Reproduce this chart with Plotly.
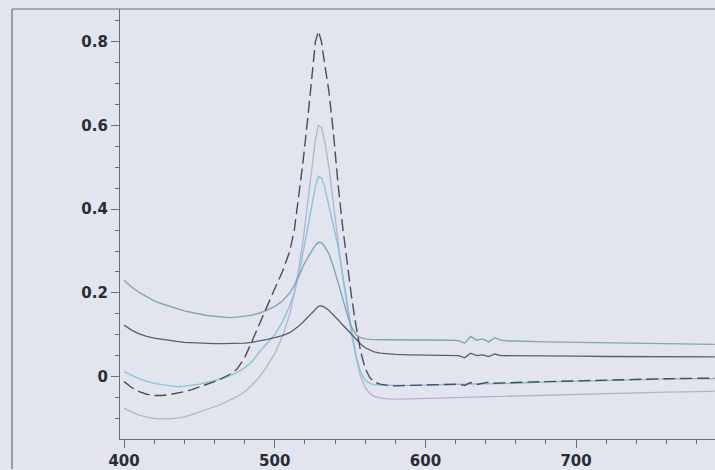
import plotly.graph_objects as go

# Wavelength grid (nm)
wavelength = [400,405,410,415,420,425,430,435,440,445,450,455,460,465,470,475,480,485,490,495,
              500,505,510,513,516,519,522,525,527,529,531,533,536,539,542,545,548,551,554,557,
              560,563,566,570,575,580,590,600,610,618,622,626,630,634,638,642,646,650,655,660,
              680,700,720,740,760,780,792]

# Series A (teal, peak ~0.32)
series_a = [0.230,0.214,0.201,0.190,0.181,0.174,0.168,0.162,0.157,0.153,0.149,0.146,0.144,0.142,0.141,0.142,0.144,0.147,0.152,0.159,
            0.168,0.180,0.200,0.218,0.240,0.265,0.285,0.303,0.314,0.321,0.320,0.312,0.293,0.262,0.225,0.185,0.150,0.118,0.100,0.093,
            0.090,0.089,0.088,0.088,0.088,0.088,0.088,0.088,0.087,0.087,0.086,0.080,0.096,0.087,0.090,0.083,0.093,0.087,0.085,0.085,
            0.083,0.082,0.080,0.079,0.078,0.077,0.077]

# Series B (dark grey, peak ~0.17)
series_b = [0.123,0.111,0.102,0.096,0.092,0.089,0.086,0.084,0.082,0.081,0.080,0.079,0.079,0.079,0.079,0.079,0.080,0.082,0.085,0.089,
            0.093,0.098,0.105,0.112,0.121,0.131,0.142,0.154,0.162,0.168,0.169,0.166,0.158,0.148,0.136,0.124,0.112,0.100,0.088,0.078,
            0.069,0.063,0.059,0.056,0.054,0.053,0.052,0.051,0.051,0.050,0.050,0.045,0.056,0.050,0.052,0.048,0.054,0.050,0.050,0.050,
            0.049,0.049,0.048,0.048,0.047,0.047,0.047]

# Series C (dashed, peak ~0.82)
series_c = [-0.012,-0.026,-0.036,-0.042,-0.045,-0.045,-0.043,-0.040,-0.036,-0.031,-0.025,-0.019,-0.012,-0.004,0.005,0.018,0.045,0.085,0.128,0.168,
            0.210,0.250,0.300,0.350,0.430,0.520,0.620,0.740,0.800,0.825,0.800,0.750,0.680,0.580,0.460,0.360,0.270,0.190,0.120,0.060,
            0.020,-0.002,-0.013,-0.018,-0.021,-0.022,-0.021,-0.020,-0.019,-0.018,-0.018,-0.021,-0.014,-0.019,-0.016,-0.013,-0.016,-0.015,-0.015,-0.014,
            -0.012,-0.010,-0.008,-0.006,-0.005,-0.004,-0.004]

# Series D (cyan, peak ~0.48)
series_d = [0.012,0.003,-0.005,-0.011,-0.016,-0.019,-0.022,-0.024,-0.023,-0.021,-0.018,-0.014,-0.010,-0.005,0.002,0.010,0.021,0.036,0.060,0.080,
            0.100,0.130,0.170,0.200,0.245,0.300,0.360,0.420,0.455,0.478,0.475,0.455,0.410,0.360,0.310,0.250,0.180,0.110,0.050,0.010,
            -0.008,-0.016,-0.019,-0.020,-0.021,-0.021,-0.021,-0.020,-0.019,-0.018,-0.017,-0.017,-0.017,-0.017,-0.017,-0.017,-0.017,-0.017,-0.016,-0.016,
            -0.013,-0.011,-0.009,-0.007,-0.006,-0.005,-0.005]

# Series E (lavender, peak ~0.60)
series_e = [-0.076,-0.085,-0.092,-0.097,-0.100,-0.101,-0.101,-0.099,-0.096,-0.091,-0.085,-0.079,-0.072,-0.065,-0.057,-0.048,-0.036,-0.020,0.000,0.025,
            0.055,0.095,0.150,0.200,0.260,0.330,0.420,0.510,0.565,0.600,0.595,0.565,0.500,0.410,0.320,0.240,0.170,0.100,0.045,0.000,
            -0.025,-0.040,-0.047,-0.051,-0.053,-0.054,-0.053,-0.052,-0.051,-0.050,-0.050,-0.050,-0.049,-0.049,-0.049,-0.048,-0.048,-0.048,-0.047,-0.047,
            -0.045,-0.043,-0.041,-0.039,-0.037,-0.036,-0.035]

x_tick_vals = [400, 500, 600, 700, 800]
y_tick_vals = [0, 0.2, 0.4, 0.6, 0.8]
y_tick_text = ["0", "0.2", "0.4", "0.6", "0.8"]

BG = "#e3e5ee"
AXIS = "#6b6c78"
TEXT = "#2a2b33"

fig = go.Figure()
traces = [
    (series_e, "#b4b1d2", 1.3, "solid"),
    (series_d, "#88c6d6", 1.4, "solid"),
    (series_a, "#7ea5b8", 1.4, "solid"),
    (series_b, "#5b5e68", 1.3, "solid"),
    (series_c, "#4a4c57", 1.4, "12px,5px"),
]
for ys, col, w, dash in traces:
    fig.add_trace(go.Scatter(x=wavelength, y=ys, mode="lines",
                             line=dict(color=col, width=w, dash=dash),
                             showlegend=False, hoverinfo="skip"))

tickfont = dict(family="DejaVu Sans", size=15, color=TEXT, weight="bold")

fig.update_layout(
    width=715, height=470,
    margin=dict(l=120, r=0, t=9, b=27),
    paper_bgcolor=BG, plot_bgcolor=BG,
    xaxis=dict(range=[397.3, 792.2], showgrid=False, zeroline=False,
               showline=True, linecolor=AXIS, linewidth=1.2,
               tickvals=x_tick_vals, ticks="outside", ticklen=8, tickwidth=1.2, tickcolor=AXIS,
               tickfont=tickfont,
               minor=dict(dtick=20, tick0=400, ticks="outside", ticklen=4, tickcolor=AXIS, tickwidth=1)),
    yaxis=dict(range=[-0.149, 0.878], showgrid=False, zeroline=False,
               showline=True, linecolor=AXIS, linewidth=1.2,
               tickvals=y_tick_vals, ticktext=y_tick_text, ticks="outside", ticklen=8, tickwidth=1.2, tickcolor=AXIS,
               tickfont=tickfont,
               minor=dict(dtick=0.05, tick0=0, ticks="outside", ticklen=4, tickcolor=AXIS, tickwidth=1)),
    shapes=[
        dict(type="line", xref="paper", yref="paper", x0=-0.1815, x1=1.0, y0=1.0, y1=1.0,
             line=dict(color=AXIS, width=1.2)),
        dict(type="line", xref="paper", yref="paper", x0=-0.1815, x1=-0.1815, y0=1.0, y1=-0.07,
             line=dict(color=AXIS, width=1.2)),
    ],
)

fig.write_html("out.html",
               config={"displayModeBar": False},
               post_script="document.body.style.margin='0';document.body.style.padding='0';"
                           "document.body.style.background='" + BG + "';"
                           "document.body.style.overflow='hidden';")
